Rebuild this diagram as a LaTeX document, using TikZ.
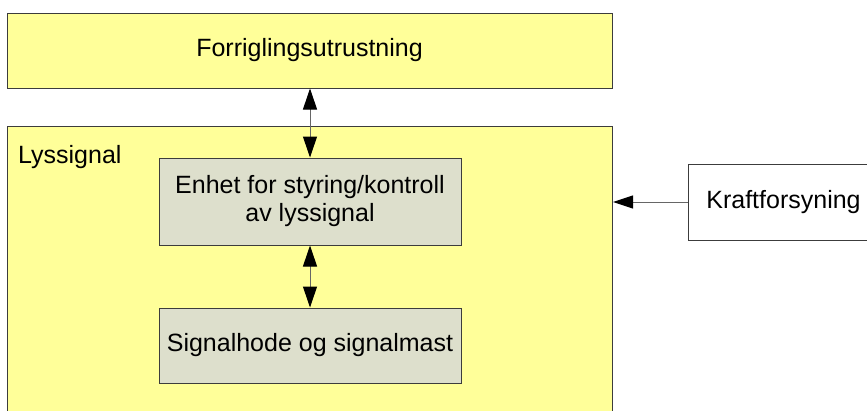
\documentclass[tikz,border=0pt]{standalone}
\usepackage{fontspec}
\setmainfont{Liberation Sans}
\usetikzlibrary{arrows.meta}
\definecolor{boxyellow}{RGB}{255,255,153}
\definecolor{boxgray}{RGB}{221,223,204}
\definecolor{edgegray}{RGB}{60,60,60}
\tikzset{
  block/.style={draw=edgegray, line width=1pt, inner sep=0pt, align=center,
    font=\fontsize{25}{28}\selectfont},
  link/.style={draw=gray!80!black, line width=1pt,
    {Triangle[length=21pt,width=14pt,color=black]}-{Triangle[length=21pt,width=14pt,color=black]}},
  feed/.style={draw=gray!80!black, line width=1pt,
    -{Triangle[length=20pt,width=13pt,color=black]}}
}
\begin{document}
\begin{tikzpicture}[x=1pt,y=-1pt]
  \clip (0,0) rectangle (867,410);
  \fill[white] (0,0) rectangle (867,410);
  % outer boxes
  \node [block, fill=boxyellow, minimum width=605pt, minimum height=75pt] (forr) at (309.5,50.5) {Forriglingsutrustning};
  \node [block, fill=boxyellow, minimum width=605pt, minimum height=300pt, anchor=north west] (lys) at (7,126) {};
  \node [anchor=west, inner sep=0pt, font=\fontsize{25}{28}\selectfont] (lyslabel) at (18,157) {Lyssignal};
  % inner boxes
  \node [block, fill=boxgray, minimum width=302pt, minimum height=87pt] (enhet) at (310,201.5) {Enhet for styring/kontroll\\av lyssignal};
  \node [block, fill=boxgray, minimum width=302pt, minimum height=75pt] (hode) at (310,345.5) {Signalhode og signalmast};
  \node [block, fill=white, minimum width=190pt, minimum height=76pt, anchor=west] (kraft) at (688,202) {Kraftforsyning};
  % connectors
  \draw [link] (forr.south -| enhet.north) -- (enhet.north);
  \draw [link] (enhet.south) -- (hode.north);
  \coordinate (lysin) at (lys.east |- kraft.west);
  \draw [feed] (kraft.west) -- (lysin);
\end{tikzpicture}
\end{document}
